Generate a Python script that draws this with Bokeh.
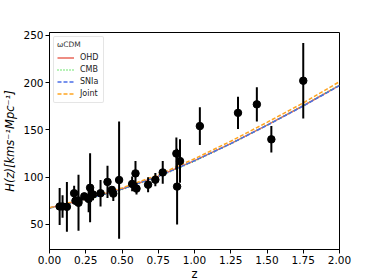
import numpy as np
from bokeh.plotting import figure
from bokeh.models import ColumnDataSource, Range1d, FixedTicker, Legend, LegendItem
from bokeh.embed import file_html
from bokeh.resources import INLINE

# Observational H(z) data
z_obs = [0.07, 0.09, 0.12, 0.17, 0.179, 0.199, 0.2, 0.24, 0.27, 0.28, 0.30, 0.352,
         0.40, 0.43, 0.44, 0.48, 0.57, 0.593, 0.60, 0.68, 0.73, 0.781, 0.875,
         0.88, 0.90, 1.037, 1.30, 1.43, 1.53, 1.75]
H_obs = [69, 69, 68.6, 83, 75, 75, 72.9, 79.7, 77, 88.8, 81.7, 83,
         95, 86.5, 82.6, 97, 92.9, 104, 87.9, 92, 97.3, 105, 125,
         90, 117, 154, 168, 177, 140, 202]
H_err = [19.6, 12, 26.2, 8, 4, 5, 29.6, 2.7, 14, 36.6, 6.2, 14,
         17, 3.7, 7.8, 62, 7.8, 13, 6.1, 8, 7.0, 12, 17,
         40, 23, 20, 17, 18, 14, 40]

# Model curves (wCDM best fits), sampled
z_mod = [0.0, 0.25, 0.5, 0.75, 1.0, 1.25, 1.5, 1.75, 2.0]
H_ohd = [67.5, 76.5, 87.5, 101.0, 117.5, 135.5, 155.0, 175.5, 197.0]
H_cmb = [67.2, 76.0, 87.0, 100.5, 117.0, 135.3, 155.0, 175.5, 197.5]
H_sn = [67.5, 76.4, 87.4, 100.9, 117.4, 135.4, 154.8, 175.3, 196.8]
H_joint = [67.8, 77.3, 88.6, 102.5, 119.5, 138.0, 158.0, 178.5, 201.0]

x_ticks = [0.0, 0.25, 0.5, 0.75, 1.0, 1.25, 1.5, 1.75, 2.0]
y_ticks = [50, 100, 150, 200, 250]

p = figure(frame_width=290, frame_height=217, output_backend="svg", toolbar_location=None,
           x_range=Range1d(0, 2), y_range=Range1d(23.5, 253),
           min_border_left=38, min_border_right=30, min_border_top=32, min_border_bottom=20)
p.grid.visible = False
p.outline_line_color = "black"
p.outline_line_width = 1
p.background_fill_color = "white"
p.border_fill_color = "white"

lower = [h - e for h, e in zip(H_obs, H_err)]
upper = [h + e for h, e in zip(H_obs, H_err)]
src = ColumnDataSource(dict(z=z_obs, H=H_obs, lo=lower, hi=upper))

r_ohd = p.line(z_mod, H_ohd, line_color="#e8675a", line_width=1.5)
r_cmb = p.line(z_mod, H_cmb, line_color="#44dd44", line_width=1.5, line_dash="1 2")
r_sn = p.line(z_mod, H_sn, line_color="#4a6ee8", line_width=1.5, line_dash="4 2")
r_joint = p.line(z_mod, H_joint, line_color="#ffa520", line_width=1.5, line_dash="4 2")

p.segment(x0="z", y0="lo", x1="z", y1="hi", source=src, line_color="black", line_width=2)
p.scatter(x="z", y="H", source=src, size=7.5, fill_color="black", line_color="black")

legend = Legend(items=[LegendItem(label="OHD", renderers=[r_ohd]),
                       LegendItem(label="CMB", renderers=[r_cmb]),
                       LegendItem(label="SNIa", renderers=[r_sn]),
                       LegendItem(label="Joint", renderers=[r_joint])],
                location="top_left", title="ωCDM")
legend.title_text_font = "DejaVu Sans"
legend.title_text_font_size = "7.5px"
legend.title_text_font_style = "normal"
legend.title_text_color = "#333333"
legend.title_text_align = "center"
legend.title_standoff = 3
legend.label_text_font = "DejaVu Sans"
legend.label_text_font_size = "8px"
legend.label_text_color = "#222222"
legend.label_height = 11
legend.glyph_height = 11
legend.glyph_width = 17
legend.label_standoff = 6
legend.spacing = 1
legend.padding = 3
legend.margin = 4
legend.border_line_color = "#cccccc"
legend.border_line_width = 1
legend.border_radius = 2
p.add_layout(legend)

for ax in (p.xaxis, p.yaxis):
    ax.major_label_text_font = "DejaVu Sans"
    ax.major_label_text_font_size = "10.5px"
    ax.major_label_text_color = "black"
    ax.axis_label_text_font = "DejaVu Sans"
    ax.axis_label_text_font_size = "11.5px"
    ax.axis_label_text_color = "black"
    ax.minor_tick_line_color = None
    ax.major_tick_in = 0
    ax.major_tick_out = 4
    ax.major_tick_line_color = "black"
    ax.axis_line_color = "black"

p.xaxis.ticker = FixedTicker(ticks=x_ticks)
p.xaxis.major_label_overrides = {t: f"{t:.2f}" for t in x_ticks}
p.xaxis.axis_label = "z"
p.xaxis.axis_label_text_font_style = "normal"
p.xaxis.axis_label_standoff = 0
p.xaxis.major_label_standoff = 2
p.yaxis.ticker = FixedTicker(ticks=y_ticks)
p.yaxis.axis_label = "H(z)[kms⁻¹Mpc⁻¹]"
p.yaxis.axis_label_text_font_style = "italic"
p.yaxis.axis_label_standoff = 3
p.yaxis.major_label_standoff = 2

open("out.html", "w").write(file_html(p, INLINE))
